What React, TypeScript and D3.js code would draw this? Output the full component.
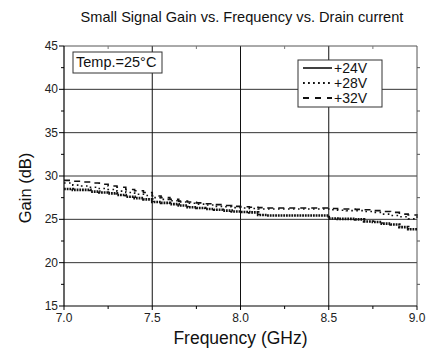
import React from "react";
import * as d3 from "d3";

const freqs = [
  7.0, 7.05, 7.1, 7.15, 7.2, 7.25, 7.3, 7.35, 7.4, 7.45, 7.5, 7.55, 7.6, 7.65, 7.7, 7.75, 7.8, 7.85, 7.9, 7.95,
  8.0, 8.05, 8.1, 8.15, 8.2, 8.25, 8.3, 8.35, 8.4, 8.45, 8.5, 8.55, 8.6, 8.65, 8.7, 8.75, 8.8, 8.85, 8.9, 8.95, 9.0,
];
const gain24 = [
  28.5, 28.4, 28.4, 28.2, 28.1, 28.0, 27.8, 27.6, 27.45, 27.3, 27.0, 26.9, 26.75, 26.6, 26.4, 26.3, 26.2, 26.1, 26.0, 25.9,
  25.85, 25.8, 25.5, 25.45, 25.45, 25.45, 25.45, 25.45, 25.45, 25.45, 25.1, 25.05, 25.05, 25.0, 24.75, 24.7, 24.5, 24.4, 24.1, 23.85, 23.8,
];
const gain28 = [
  29.2, 28.95, 28.85, 28.7, 28.55, 28.45, 28.25, 28.1, 27.9, 27.75, 27.5, 27.3, 27.15, 27.0, 26.85, 26.75, 26.65, 26.5, 26.45, 26.35,
  26.3, 26.25, 26.2, 26.2, 26.2, 26.2, 26.2, 26.2, 26.2, 26.2, 26.1, 26.05, 26.0, 26.0, 25.9, 25.8, 25.6, 25.45, 25.3, 25.05, 25.5,
];
const gain32 = [
  29.5, 29.4, 29.3, 29.2, 29.05, 28.85, 28.7, 28.45, 28.3, 28.1, 27.7, 27.5, 27.3, 27.1, 27.0, 26.9, 26.8, 26.7, 26.6, 26.5,
  26.45, 26.4, 26.35, 26.3, 26.3, 26.3, 26.3, 26.3, 26.3, 26.3, 26.25, 26.2, 26.2, 26.15, 26.1, 26.0, 25.9, 25.8, 25.6, 25.5, 25.4,
];
const seriesNames = ["+24V", "+28V", "+32V"];
const xTicks = [7.0, 7.5, 8.0, 8.5, 9.0];
const xMinor = [7.25, 7.75, 8.25, 8.75];
const yTicks = [15, 20, 25, 30, 35, 40, 45];
const yMinor = [17.5, 22.5, 27.5, 32.5, 37.5, 42.5];
const title = "Small Signal Gain vs. Frequency vs. Drain current";
const xTitle = "Frequency (GHz)";
const yTitle = "Gain (dB)";
const tempLabel = "Temp.=25\u00B0C";

const W = 432;
const H = 349;
const L = 64, R = 417, T = 46, B = 306;
const FONT = "'Liberation Sans', Arial, sans-serif";

export default function App() {
  const x = d3.scaleLinear().domain([7, 9]).range([L, R]);
  const y = d3.scaleLinear().domain([15, 45]).range([B, T]);
  const line = d3
    .line<number>()
    .x((_, i) => x(freqs[i]))
    .y((d) => y(d))
    .curve(d3.curveStepAfter);

  const styles = [
    { data: gain24, width: 2.6, dash: "1.8 0.9" },
    { data: gain28, width: 1.6, dash: "1.6 3.4" },
    { data: gain32, width: 1.6, dash: "6 5" },
  ];
  const legendStyles = [
    { width: 1.6, dash: "none" },
    { width: 1.8, dash: "1.8 3.2" },
    { width: 1.8, dash: "6 6" },
  ];

  return (
    <svg width={W} height={H} style={{ position: "absolute", left: 0, top: 0, background: "#fff" }} fontFamily={FONT}>
      <rect x={0} y={0} width={W} height={H} fill="#fff" />
      <text x={242} y={22} fontSize={14.6} textAnchor="middle" fill="#111">{title}</text>

      {/* grid */}
      {yTicks.slice(1, -1).map((t) => (
        <line key={"gy" + t} x1={L} x2={R} y1={y(t)} y2={y(t)} stroke="#333" strokeWidth={1} />
      ))}
      {xTicks.slice(1, -1).map((t) => (
        <line key={"gx" + t} x1={x(t)} x2={x(t)} y1={T} y2={B} stroke="#111" strokeWidth={1} />
      ))}
      {/* frame */}
      <line x1={L} x2={R} y1={T} y2={T} stroke="#555" strokeWidth={1} />
      <line x1={R} x2={R} y1={T} y2={B} stroke="#555" strokeWidth={1} />
      <line x1={L} x2={L} y1={T} y2={B} stroke="#000" strokeWidth={1.2} />
      <line x1={L} x2={R} y1={B} y2={B} stroke="#000" strokeWidth={1.2} />

      {/* ticks */}
      {yTicks.map((t) => (
        <g key={"yt" + t}>
          <line x1={L - 5} x2={L} y1={y(t)} y2={y(t)} stroke="#000" />
          <text x={L - 6} y={y(t) + 4} fontSize={12} textAnchor="end" fill="#222">{t}</text>
        </g>
      ))}
      {yMinor.map((t) => (
        <g key={"ym" + t}>
          <line x1={L - 3} x2={L} y1={y(t)} y2={y(t)} stroke="#000" />
          <line x1={R} x2={R + 3} y1={y(t)} y2={y(t)} stroke="#555" />
        </g>
      ))}
      {xTicks.map((t) => (
        <g key={"xt" + t}>
          <line x1={x(t)} x2={x(t)} y1={B} y2={B + 4} stroke="#000" />
          <text x={x(t)} y={B + 16} fontSize={12} textAnchor="middle" fill="#222">{t.toFixed(1)}</text>
        </g>
      ))}
      {xMinor.map((t) => (
        <g key={"xm" + t}>
          <line x1={x(t)} x2={x(t)} y1={B} y2={B + 3} stroke="#000" />
          <line x1={x(t)} x2={x(t)} y1={T} y2={T + 3} stroke="#777" />
        </g>
      ))}

      {/* series */}
      {styles.map((s, i) => (
        <path key={"s" + i} d={line(s.data) || ""} fill="none" stroke="#111" strokeWidth={s.width} strokeDasharray={s.dash} />
      ))}

      {/* temp box */}
      <rect x={73} y={52} width={89} height={21} fill="#fff" stroke="#333" strokeWidth={1} />
      <text x={76} y={67} fontSize={14.5} fill="#111">{tempLabel}</text>

      {/* legend */}
      <rect x={298} y={60} width={84} height={47} fill="#fff" stroke="#333" strokeWidth={1} />
      {seriesNames.map((n, i) => (
        <g key={"lg" + n}>
          <line x1={303} x2={332} y1={68 + i * 15} y2={68 + i * 15} stroke="#111" strokeWidth={legendStyles[i].width} strokeDasharray={legendStyles[i].dash} />
          <text x={334} y={73 + i * 15} fontSize={14} fill="#111">{n}</text>
        </g>
      ))}

      {/* axis titles */}
      <text x={(L + R) / 2} y={344} fontSize={17.5} textAnchor="middle" fill="#111">{xTitle}</text>
      <text transform={`translate(31, ${(T + B) / 2 + 12}) rotate(-90)`} fontSize={16.5} textAnchor="middle" fill="#111">{yTitle}</text>
    </svg>
  );
}
